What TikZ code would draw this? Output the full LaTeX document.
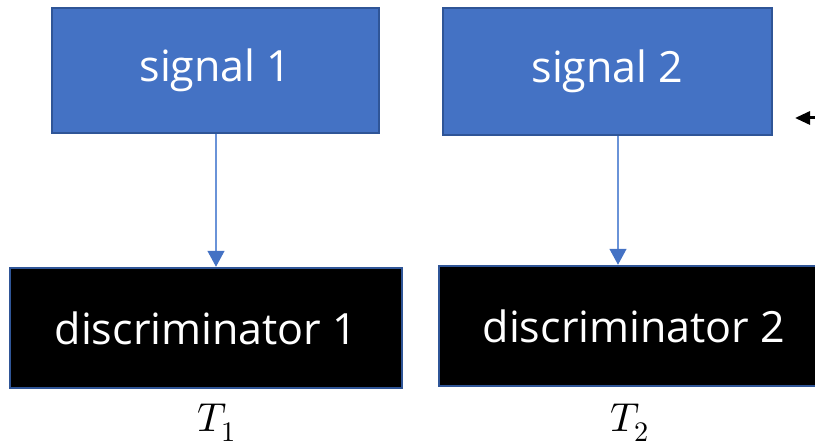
\documentclass[tikz,border=0pt]{standalone}
\usepackage{fontspec}
\usepackage{unicode-math}
\setmainfont{Open Sans}
\setmathfont{Latin Modern Math}
\usetikzlibrary{positioning,arrows.meta}

\definecolor{sigblue}{HTML}{4472C4}
\definecolor{edgeblue}{HTML}{2F5597}
\definecolor{lineblue}{HTML}{6A93D8}

\tikzset{
    sigbox/.style={rectangle, draw=edgeblue, fill=sigblue, line width=0.05cm, text=white, font=\fontsize{24.5}{28}\selectfont},
    discbox/.style={rectangle, draw=edgeblue, fill=black, line width=0.05cm, text=white, font=\fontsize{24.5}{28}\selectfont},
    flow/.style={lineblue, line width=0.03cm, -{Triangle[length=0.32cm, width=0.34cm, color=sigblue]}},
    tlabel/.style={font=\fontsize{23}{26}\selectfont}
}

\begin{document}
\begin{tikzpicture}[x=0.02cm, y=-0.02cm]
        \useasboundingbox (0, 0) rectangle (815, 448);
        \clip (0, 0) rectangle (815, 448);

        \node[sigbox, minimum width=6.54cm, minimum height=2.5cm] (sig1) at (215.5, 70.5) {signal 1};
        \node[sigbox, minimum width=6.58cm, minimum height=2.54cm] (sig2) at (607.5, 71.5) {signal 2};

        \node[discbox, minimum width=7.84cm, minimum height=2.4cm] (disc1) at (206, 328) {discriminator 1};
        \node[discbox, minimum width=7.8cm, minimum height=2.4cm] (disc2) at (634, 326) {discriminator 2};

        \node[tlabel] (t1) at (217, 423) {$T_1$};
        \node[tlabel] (t2) at (630, 423) {$T_2$};

        \coordinate (in2) at (850, 118);
        \coordinate (tip2) at (795, 118);

        \draw[flow] (sig1.south -| 216, 0) -- (disc1.north -| 216, 0);
        \draw[flow] (sig2.south -| 618, 0) -- (disc2.north -| 618, 0);
        \draw[line width=0.06cm, -{Triangle[length=0.3cm, width=0.26cm]}] (in2) -- (tip2);
    \end{tikzpicture}
\end{document}
